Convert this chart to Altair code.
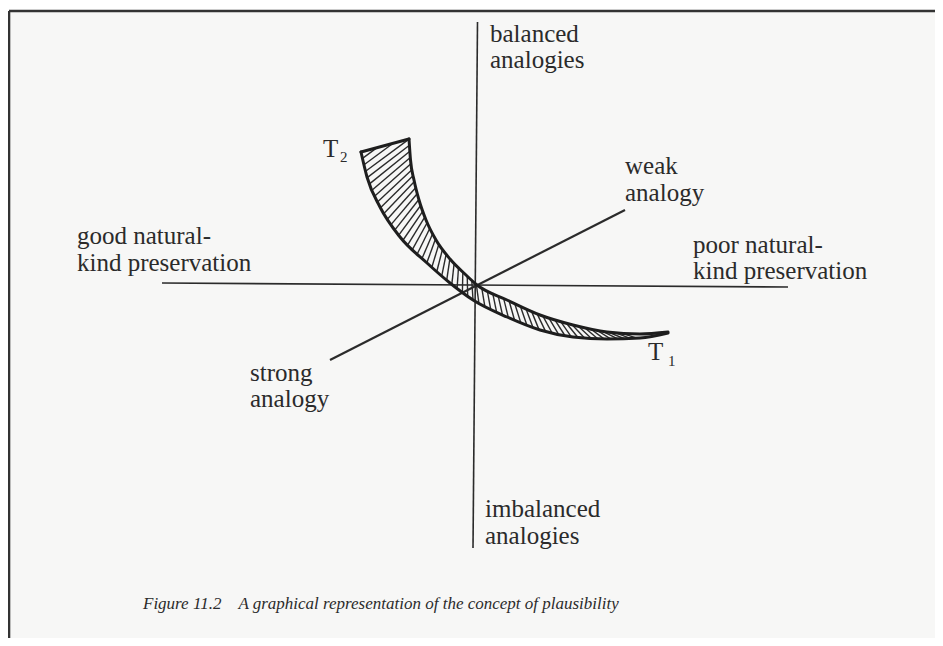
import altair as alt
import pandas as pd
import numpy as np

# Diagram coordinates: origin at the crossing of the axes, 1 unit = 10 px
X_DOMAIN = [-46.7, 46.0]
Y_DOMAIN = [-35.3, 27.7]

# Straight lines: horizontal axis, vertical axis, diagonal (strong -> weak analogy)
line_names = ["natural-kind", "balance", "analogy strength"]
line_x0 = [-31.3, 0.25, -14.5]
line_y0 = [0.2, 26.3, -7.5]
line_x1 = [31.3, -0.2, 15.0]
line_y1 = [-0.2, -26.3, 7.5]

# Hatched band between T2 and T1: outer (upper/right) edge and inner (lower/left) edge
outer_x = [-6.6, -6.45, -6.1, -5.6, -4.9, -3.9, -2.5, -0.9, 0.2, 3.2, 6.5, 9.8, 13.2, 16.5, 19.3]
outer_y = [14.6, 12.5, 10.5, 8.5, 6.5, 4.5, 2.6, 1.0, 0.0, -1.5, -3.0, -4.0, -4.7, -4.9, -4.7]
inner_x = [-11.4, -10.8, -9.5, -7.5, -4.8, -2.5, -0.2, 3.2, 6.5, 9.8, 13.2, 16.5, 19.3]
inner_y = [13.3, 10.8, 7.8, 4.8, 2.2, 0.2, -1.5, -3.2, -4.5, -5.2, -5.4, -5.3, -4.8]

# Text labels (left x, baseline y)
label_text = ["balanced", "analogies", "good natural-", "kind preservation",
              "poor natural-", "kind preservation", "weak", "analogy",
              "strong", "analogy", "imbalanced", "analogies", "T", "T"]
label_x = [1.5, 1.5, -39.8, -39.8, 21.8, 21.8, 15.0, 15.0,
           -22.5, -22.5, 1.0, 1.0, -15.2, 17.3]
label_y = [24.3, 21.7, 4.1, 1.4, 3.2, 0.6, 11.1, 8.4,
           -9.6, -12.2, -23.2, -25.9, 12.8, -7.5]
sub_text = ["2", "1"]
sub_x = [-13.5, 19.3]
sub_y = [12.3, -8.1]
caption = "Figure 11.2\u00a0\u00a0\u00a0\u00a0A graphical representation of the concept of plausibility"
caption_x = [-33.2]
caption_y = [-32.4]

# Frame of the figure
frame_x0 = [-46.6, -46.6]
frame_y0 = [27.4, 27.4]
frame_x1 = [46.0, -46.6]
frame_y1 = [27.4, -35.3]

xs = alt.Scale(domain=X_DOMAIN, nice=False, zero=False)
ys = alt.Scale(domain=Y_DOMAIN, nice=False, zero=False)
INK = "#2b2b2b"


def X(f):
    return alt.X(f, type="quantitative", scale=xs, axis=None)


def Y(f):
    return alt.Y(f, type="quantitative", scale=ys, axis=None)


def resample(px, py, t):
    px, py = np.asarray(px), np.asarray(py)
    d = np.r_[0, np.cumsum(np.hypot(np.diff(px), np.diff(py)))]
    d = d / d[-1]
    return np.interp(t, d, px), np.interp(t, d, py)


# hatch rungs (texture of the band)
N = 56
delta = 0.05
s = np.linspace(-delta, 1 - delta * 2.6, N)
lx, ly = resample(inner_x, inner_y, np.clip(s + delta, 0, 1))
ux, uy = resample(outer_x, outer_y, np.clip(s, 0, 1))
cap_frac = np.clip((s + delta) / delta, 0, 1)
capx = inner_x[0] + (outer_x[0] - inner_x[0]) * cap_frac
capy = inner_y[0] + (outer_y[0] - inner_y[0]) * cap_frac
ux = np.where(s < 0, capx, ux)
uy = np.where(s < 0, capy, uy)
hatch = pd.DataFrame({"x": ux, "y": uy, "x2": lx, "y2": ly})

# band edges as two smooth lines + end cap
edges = pd.DataFrame({
    "x": outer_x + inner_x,
    "y": outer_y + inner_y,
    "edge": ["outer"] * len(outer_x) + ["inner"] * len(inner_x),
    "o": list(range(len(outer_x))) + list(range(len(inner_x))),
})
cap_df = pd.DataFrame({"x": [inner_x[0]], "y": [inner_y[0]], "x2": [outer_x[0]], "y2": [outer_y[0]]})

paper = alt.Chart(pd.DataFrame({"x": [frame_x0[0]], "x2": [frame_x1[0]],
                                "y": [frame_y0[0]], "y2": [frame_y1[1]]})).mark_rect(
    color="#f7f7f6").encode(x=X("x"), x2="x2", y=Y("y"), y2="y2")

frame = alt.Chart(pd.DataFrame({"x": frame_x0, "y": frame_y0, "x2": frame_x1, "y2": frame_y1})).mark_rule(
    color="#333333", strokeWidth=2.6).encode(x=X("x"), y=Y("y"), x2="x2", y2="y2")

lines = alt.Chart(pd.DataFrame({"name": line_names, "x": line_x0, "y": line_y0,
                                "x2": line_x1, "y2": line_y1,
                                "w": [1.6, 1.6, 2.2]})).mark_rule(color=INK).encode(
    x=X("x"), y=Y("y"), x2="x2", y2="y2",
    strokeWidth=alt.StrokeWidth("w:Q", scale=None, legend=None))

hatch_layer = alt.Chart(hatch).mark_rule(color=INK, strokeWidth=1.4).encode(
    x=X("x"), y=Y("y"), x2="x2", y2="y2")

outline = alt.Chart(edges).mark_line(color="#1e1e1e", strokeWidth=3, interpolate="monotone",
                                     strokeCap="round").encode(
    x=X("x"), y=Y("y"), detail="edge:N", order="o:Q")

cap_line = alt.Chart(cap_df).mark_rule(color="#1e1e1e", strokeWidth=3, strokeCap="round").encode(
    x=X("x"), y=Y("y"), x2="x2", y2="y2")

labels = alt.Chart(pd.DataFrame({"t": label_text, "x": label_x, "y": label_y})).mark_text(
    align="left", baseline="alphabetic", font="Liberation Serif", fontSize=25, color=INK).encode(
    x=X("x"), y=Y("y"), text="t:N")

subs = alt.Chart(pd.DataFrame({"t": sub_text, "x": sub_x, "y": sub_y})).mark_text(
    align="left", baseline="alphabetic", font="Liberation Serif", fontSize=15, color=INK).encode(
    x=X("x"), y=Y("y"), text="t:N")

cap = alt.Chart(pd.DataFrame({"t": [caption], "x": caption_x, "y": caption_y})).mark_text(
    align="left", baseline="alphabetic", font="Liberation Serif", fontSize=17,
    fontStyle="italic", color=INK).encode(x=X("x"), y=Y("y"), text="t:N")

chart = alt.layer(paper, frame, lines, hatch_layer, outline, cap_line, labels, subs, cap).properties(
    width=927, height=630, padding=0, autosize=alt.AutoSizeParams(type="none"),
    background="white"
).configure_view(stroke=None)

chart.save("out.html", embed_options={"renderer": "svg", "actions": False})
